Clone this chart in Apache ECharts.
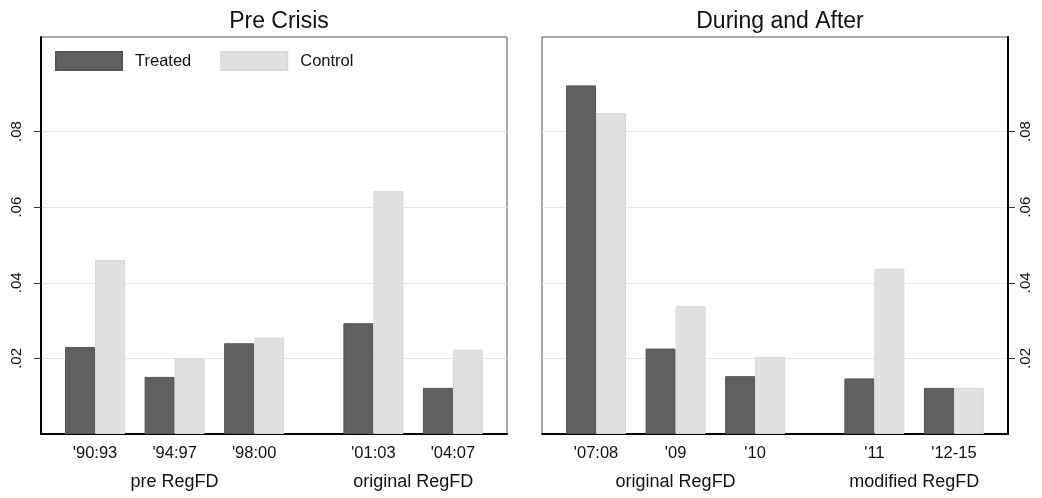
<!DOCTYPE html>
<html>
<head>
<meta charset="utf-8">
<script src="https://cdn.jsdelivr.net/npm/echarts@6/dist/echarts.min.js"></script>
<style>html,body{margin:0;padding:0;background:#fff}#c{width:1042px;height:498px}</style>
</head>
<body>
<div id="c"></div>
<script>
// ---- data ----
const panelTitles = ['Pre Crisis', 'During and After'];
const positions = [1, 2, 3, 4.5, 5.5];
const preCategories = ["'90:93", "'94:97", "'98:00", "'01:03", "'04:07"];
const postCategories = ["'07:08", "'09", "'10", "'11", "'12-15"];
const groupPositions = [2, 5];
const preGroups = ['pre RegFD', 'original RegFD'];
const postGroups = ['original RegFD', 'modified RegFD'];
const preTreated = [0.0230, 0.0151, 0.0240, 0.0293, 0.0122];
const preControl = [0.0460, 0.0200, 0.0255, 0.0643, 0.0223];
const postTreated = [0.0922, 0.0226, 0.0153, 0.0147, 0.0122];
const postControl = [0.0849, 0.0338, 0.0204, 0.0437, 0.0122];
const yTicks = [0.02, 0.04, 0.06, 0.08];

const FONT = 'Liberation Sans, Arial, sans-serif';
const TEXT = '#111';
const DARK = '#606060';
const LIGHT = '#e0e0e0';

const chart = echarts.init(document.getElementById('c'), null, {renderer: 'canvas'});

function pairs(vals) { return vals.map((v, i) => [positions[i], v]); }
function lookup(keys, labels) { return v => { const i = keys.indexOf(v); return i >= 0 ? labels[i] : ''; }; }
const yFmt = v => v.toFixed(2).replace(/^0/, '');

const grids = [
  {left: 41, right: 535, top: 37, bottom: 64, show: true, borderColor: '#555', borderWidth: 1},
  {left: 542, right: 34, top: 37, bottom: 64, show: true, borderColor: '#555', borderWidth: 1}
];

function xAxes(gi, cats, groups) {
  return [
    {gridIndex: gi, type: 'value', min: 0.32, max: 6.18,
     axisLine: {show: true, onZero: false, lineStyle: {color: '#000', width: 2}},
     axisTick: {show: false},
     splitLine: {show: false},
     axisLabel: {customValues: positions, formatter: lookup(positions, cats), color: TEXT, fontFamily: FONT, fontSize: 16.5, margin: 11}},
    {gridIndex: gi, type: 'value', min: 0.32, max: 6.18, position: 'bottom', offset: 29,
     axisLine: {show: false}, axisTick: {show: false}, splitLine: {show: false},
     axisLabel: {customValues: groupPositions, formatter: lookup(groupPositions, groups), color: TEXT, fontFamily: FONT, fontSize: 18, margin: 10}}
  ];
}

function yAxis(gi, pos, margin) {
  return {gridIndex: gi, type: 'value', min: 0, max: 0.105, position: pos,
    axisLine: {show: true, lineStyle: {color: '#000', width: 2}},
    axisTick: {show: true, customValues: yTicks, length: 7, lineStyle: {color: '#333', width: 1}},
    splitLine: {show: true, lineStyle: {color: '#e6e6e6', width: 1}},
    axisLabel: {customValues: yTicks, formatter: yFmt, rotate: 90, color: TEXT, fontFamily: FONT, fontSize: 15, margin: margin}};
}

function barSeries(name, vals, gi, color, border) {
  return {name: name, type: 'bar', xAxisIndex: gi * 2, yAxisIndex: gi, data: pairs(vals),
    barWidth: 30, barGap: '0%',
    itemStyle: {color: color, borderColor: border, borderWidth: 1},
    emphasis: {disabled: true}};
}

chart.setOption({
  animation: false,
  backgroundColor: '#fff',
  title: [
    {text: panelTitles[0], left: 274, top: 5, textAlign: 'center', textStyle: {fontFamily: FONT, fontSize: 23, fontWeight: 'normal', color: TEXT}},
    {text: panelTitles[1], left: 775, top: 5, textAlign: 'center', textStyle: {fontFamily: FONT, fontSize: 23, fontWeight: 'normal', color: TEXT}}
  ],
  legend: {
    left: 50, top: 46, orient: 'horizontal', itemWidth: 66, itemHeight: 18, itemGap: 29,
    icon: 'rect', data: ['Treated', 'Control'],
    selectedMode: false,
    textStyle: {fontFamily: FONT, fontSize: 16.5, color: TEXT, padding: [0, 0, 0, 8]}
  },
  grid: grids,
  xAxis: [...xAxes(0, preCategories, preGroups), ...xAxes(1, postCategories, postGroups)],
  yAxis: [yAxis(0, 'left', 17), yAxis(1, 'right', 10)],
  series: [
    barSeries('Treated', preTreated, 0, DARK, '#555'),
    barSeries('Control', preControl, 0, LIGHT, '#d8d8d8'),
    barSeries('Treated', postTreated, 1, DARK, '#555'),
    barSeries('Control', postControl, 1, LIGHT, '#d8d8d8')
  ]
});
</script>
</body>
</html>
